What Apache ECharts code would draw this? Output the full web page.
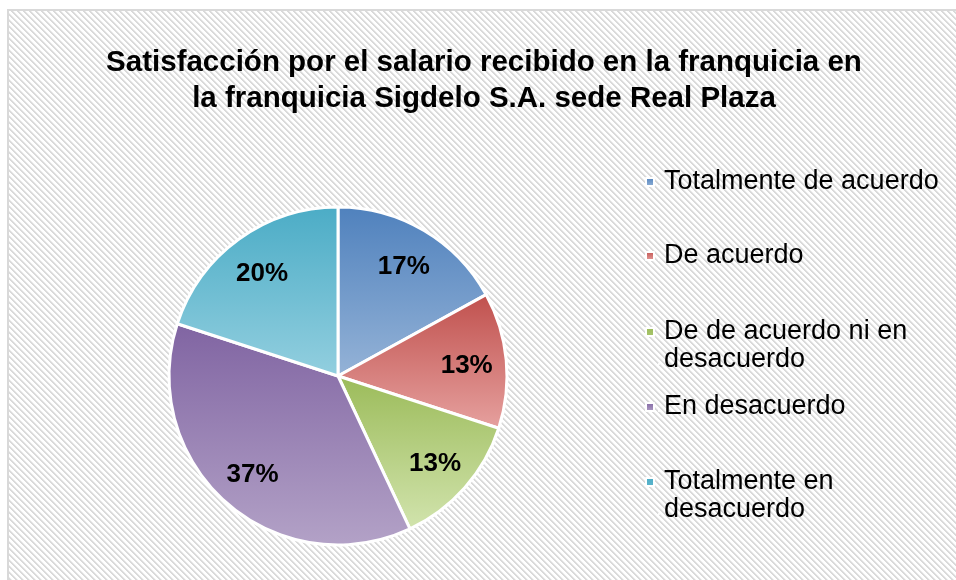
<!DOCTYPE html>
<html>
<head>
<meta charset="utf-8">
<script src="https://cdn.jsdelivr.net/npm/echarts@6/dist/echarts.min.js"></script>
<style>
  html, body { margin: 0; padding: 0; background: #fff; }
  #pie { width: 956px; height: 580px; }
</style>
</head>
<body>
<div id="pie"></div>
<script>
var dom = document.getElementById('pie');
var myChart = echarts.init(dom);

var categorias = ['Totalmente de acuerdo', 'De acuerdo', 'De de acuerdo ni en\ndesacuerdo', 'En desacuerdo', 'Totalmente en\ndesacuerdo'];
var porcentajes = [17, 13, 13, 37, 20];
var coloresTop = ['#4f81bd', '#c0504d', '#9bbb59', '#8064a2', '#4bacc6'];
var coloresBottom = ['#95b3d7', '#e6a19f', '#d2e4ae', '#b3a2c7', '#93cfdf'];
var legendTop = [168, 242, 318, 393, 468];

var cx = 338, cy = 376, R = 169;

// fondo rayado
var tile = document.createElement('canvas');
tile.width = 6; tile.height = 6;
var tctx = tile.getContext('2d');
var img = tctx.createImageData(6, 6);
for (var y = 0; y < 6; y++) {
    for (var x = 0; x < 6; x++) {
        var k = ((x - y) % 6 + 6) % 6;
        var v = k < 2 ? 218 : (k === 2 ? 238 : 255);
        var p = (y * 6 + x) * 4;
        img.data[p] = v; img.data[p + 1] = v; img.data[p + 2] = v; img.data[p + 3] = 255;
    }
}
tctx.putImageData(img, 0, 0);

var total = porcentajes.reduce(function (a, b) { return a + b; }, 0);
var midAngles = [];
var acc = 0;
porcentajes.forEach(function (v) {
    midAngles.push((acc + v / 2) / total * Math.PI * 2);
    acc += v;
});

var datos = categorias.map(function (c, i) {
    return {
        name: c,
        value: porcentajes[i],
        itemStyle: {
            color: new echarts.graphic.LinearGradient(0, 0, 0, 1, [
                { offset: 0, color: coloresTop[i] },
                { offset: 1, color: coloresBottom[i] }
            ])
        }
    };
});

var legends = categorias.map(function (c, i) {
    var twoLines = c.indexOf('\n') >= 0;
    return {
        orient: 'vertical',
        left: 645,
        top: legendTop[i],
        padding: 0,
        data: [c],
        selectedMode: false,
        itemWidth: 13,
        itemHeight: twoLines ? 36 : 8,
        itemGap: 0,
        icon: twoLines ? 'path://M0,0h8v8h-8z M12.9,35.9h0.1v0.1h-0.1z' : 'path://M0,0h8v8h-8z M12.9,7.9h0.1v0.1h-0.1z',
        textStyle: {
            color: '#000',
            fontFamily: 'Liberation Sans, Arial, sans-serif',
            fontSize: 27,
            lineHeight: 28
        }
    };
});

var option = {
    backgroundColor: '#fff',
    animation: false,
    title: {
        text: 'Satisfacción por el salario recibido en la franquicia en\nla franquicia Sigdelo S.A. sede Real Plaza',
        left: 479,
        textAlign: 'center',
        top: 40,
        textStyle: {
            color: '#000',
            fontFamily: 'Liberation Sans, Arial, sans-serif',
            fontWeight: 'bold',
            fontSize: 29.5,
            lineHeight: 36
        }
    },
    graphic: [{
        type: 'rect',
        z: -10,
        silent: true,
        shape: { x: 8, y: 10, width: 960, height: 580 },
        style: {
            fill: { image: tile, repeat: 'repeat' },
            stroke: '#d9d9d9',
            lineWidth: 2
        }
    }],
    legend: legends,
    series: [{
        type: 'pie',
        center: [cx, cy],
        radius: R,
        startAngle: 90,
        clockwise: true,
        silent: true,
        itemStyle: {
            borderColor: '#fff',
            borderWidth: 3
        },
        label: {
            show: true,
            position: 'inside',
            formatter: '{c}%',
            color: '#000',
            fontFamily: 'Liberation Sans, Arial, sans-serif',
            fontWeight: 'bold',
            fontSize: 26
        },
        labelLine: { show: false },
        labelLayout: function (params) {
            var a = midAngles[params.dataIndex];
            return {
                x: cx + 0.765 * R * Math.sin(a),
                y: cy - 0.765 * R * Math.cos(a) + 2,
                align: 'center',
                verticalAlign: 'middle'
            };
        },
        data: datos
    }]
};
myChart.setOption(option);
</script>
</body>
</html>
